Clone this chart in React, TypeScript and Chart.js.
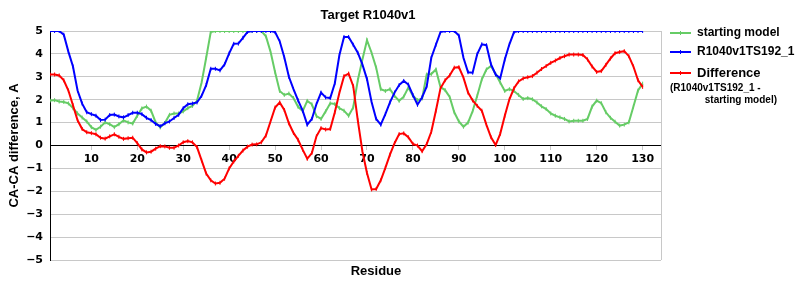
import React, { useEffect, useRef } from 'react';
import { Chart, registerables } from 'chart.js';

Chart.register(...registerables);

const chartTitle = 'Target R1040v1';
const xAxisTitle = 'Residue';
const yAxisTitle = 'CA-CA difference, A';
const seriesNames = ['starting model', 'R1040v1TS192_1', 'Difference'];
const diffNote = ['(R1040v1TS192_1 -', 'starting model)'];

// residue numbers (category positions)
const residues = Array.from({ length: 130 }, (_, i) => i + 1);
const xTickValues = [10, 20, 30, 40, 50, 60, 70, 80, 90, 100, 110, 120, 130];

const startingModel = [
  1.96, 1.98, 1.92, 1.9, 1.84, 1.63, 1.4, 1.22, 1.05, 0.8,
  0.68, 0.82, 1.01, 0.93, 0.8, 0.93, 1.1, 1.01, 0.96, 1.3,
  1.62, 1.7, 1.52, 1.01, 0.79, 0.98, 1.34, 1.4, 1.4, 1.49,
  1.63, 1.73, 1.95, 2.75, 3.83, 4.96, 5, 5, 5, 5,
  5, 5, 5, 5, 5, 5, 5, 4.77, 4.1, 3.2,
  2.38, 2.21, 2.27, 2.07, 1.69, 1.5, 1.95, 1.8, 1.28, 1.16,
  1.49, 1.84, 1.81, 1.63, 1.52, 1.3, 1.66, 2.85, 3.75, 4.6,
  4.05, 3.4, 2.46, 2.38, 2.46, 2.17, 1.95, 2.13, 2.53, 2.17,
  1.98, 2.05, 3.1, 3.12, 3.32, 2.55, 2.42, 2.12, 1.45, 1.05,
  0.82, 1.0, 1.5, 2.17, 2.89, 3.32, 3.47, 3.12, 2.75, 2.38,
  2.46, 2.38, 2.21, 2.03, 2.07, 2.02, 1.88, 1.71, 1.59, 1.4,
  1.3, 1.23, 1.16, 1.05, 1.08, 1.08, 1.08, 1.16, 1.7, 1.96,
  1.85, 1.45, 1.21, 1.04, 0.87, 0.91, 1.01, 1.7, 2.4, 2.7,
];

const modelTS192 = [
  5, 5, 5, 4.84, 4.1, 3.45, 2.4, 1.83, 1.45, 1.37,
  1.3, 1.11, 1.13, 1.33, 1.35, 1.27, 1.23, 1.33, 1.43, 1.43,
  1.37, 1.21, 1.11, 0.94, 0.84, 0.97, 1.05, 1.2, 1.34, 1.63,
  1.8, 1.83, 1.88, 2.17, 2.64, 3.35, 3.35, 3.28, 3.54, 4.02,
  4.44, 4.45, 4.7, 4.96, 5, 5, 5, 5, 5, 4.95,
  4.55, 3.85, 3.0, 2.46, 1.97, 1.52, 0.91, 1.16, 1.81, 2.31,
  2.1, 2.07, 2.72, 3.95, 4.74, 4.74, 4.4, 4.05, 3.54, 2.9,
  1.9, 1.16, 0.91, 1.37, 1.88, 2.31, 2.64, 2.82, 2.66, 2.2,
  1.78, 2.1, 2.58, 3.83, 4.4, 4.95, 5, 5, 5, 4.8,
  3.83, 3.2, 3.18, 3.99, 4.42, 4.38, 3.54, 3.1, 2.94, 3.76,
  4.42, 4.95, 5, 5, 5, 5, 5, 5, 5, 5,
  5, 5, 5, 5, 5, 5, 5, 5, 5, 5,
  5, 5, 5, 5, 5, 5, 5, 5, 5, 5,
];

const difference = [
  3.1, 3.1, 3.06, 2.85, 2.4, 1.76, 1.1, 0.72, 0.58, 0.54,
  0.49, 0.34, 0.3, 0.4, 0.49, 0.38, 0.29, 0.32, 0.34, 0.1,
  -0.17, -0.3, -0.27, -0.14, -0.03, -0.04, -0.1, -0.1, 0.0, 0.14,
  0.19, 0.14, -0.07, -0.65, -1.23, -1.52, -1.66, -1.63, -1.45, -1.0,
  -0.7, -0.45, -0.22, -0.05, 0.04, 0.05, 0.14, 0.43, 1.05, 1.66,
  1.88, 1.55, 0.97, 0.55, 0.25, -0.18, -0.58, -0.33, 0.4, 0.76,
  0.7, 0.72, 1.45, 2.3, 3.03, 3.14, 2.6, 1.1, -0.25, -1.2,
  -1.92, -1.9, -1.52, -0.98, -0.4, 0.1, 0.5, 0.53, 0.36, 0.07,
  0.0, -0.25, 0.06, 0.6, 1.52, 2.5, 2.85, 3.06, 3.4, 3.42,
  2.96, 2.31, 1.97, 1.73, 1.52, 0.9, 0.36, 0.02, 0.51, 1.3,
  2.02, 2.5, 2.8, 2.93, 2.98, 3.03, 3.18, 3.34, 3.47, 3.61,
  3.71, 3.82, 3.9, 3.97, 3.97, 3.97, 3.95, 3.76, 3.45, 3.21,
  3.25, 3.52, 3.8, 4.03, 4.08, 4.12, 3.9, 3.45, 2.85, 2.56,
];

const colors = ['#66cc66', '#0000ff', '#ff0000'];
const GRID = '#c8c8c8';
const ARIAL = '"Liberation Sans", Arial, sans-serif';
const DEJAVU = '"DejaVu Sans", Verdana, sans-serif';

const decorPlugin = {
  id: 'decor',
  afterDraw(chart: any) {
    const { ctx, chartArea } = chart;
    ctx.save();
    // right border of plot
    ctx.strokeStyle = GRID;
    ctx.lineWidth = 1;
    ctx.beginPath();
    ctx.moveTo(Math.round(chartArea.right) + 0.5, chartArea.top);
    ctx.lineTo(Math.round(chartArea.right) + 0.5, chartArea.bottom);
    ctx.stroke();

    ctx.fillStyle = '#000';
    ctx.textBaseline = 'alphabetic';
    ctx.textAlign = 'center';
    ctx.font = `bold 13px ${ARIAL}`;
    ctx.fillText(chartTitle, 368, 19);
    ctx.fillText(xAxisTitle, 376, 275);

    // legend
    const rows = [33, 52, 73];
    rows.forEach((y, i) => {
      ctx.strokeStyle = colors[i];
      ctx.lineWidth = 2;
      ctx.beginPath();
      ctx.moveTo(670, y);
      ctx.lineTo(691, y);
      ctx.stroke();
      ctx.lineWidth = 1;
      ctx.beginPath();
      ctx.moveTo(680.5, y - 2);
      ctx.lineTo(680.5, y + 2);
      ctx.stroke();
      ctx.fillStyle = '#000';
      ctx.textAlign = 'left';
      ctx.textBaseline = 'middle';
      ctx.font = i === 2 ? `bold 13px ${ARIAL}` : `bold 12px ${ARIAL}`;
      ctx.fillText(seriesNames[i], 697, y);
    });
    ctx.font = `bold 10px ${ARIAL}`;
    ctx.textAlign = 'left';
    ctx.fillText(diffNote[0], 670, 88);
    ctx.textAlign = 'right';
    ctx.fillText(diffNote[1], 777, 100);
    ctx.restore();
  },
};

export default function App() {
  const ref = useRef<HTMLCanvasElement | null>(null);

  useEffect(() => {
    if (!ref.current) return;
    const series = [startingModel, modelTS192, difference];
    const chart = new Chart(ref.current, {
      type: 'line',
      data: {
        labels: residues,
        datasets: series.map((d, i) => ({
          label: seriesNames[i],
          data: d,
          borderColor: colors[i],
          backgroundColor: colors[i],
          borderWidth: 2,
          tension: 0,
          pointStyle: 'line',
          pointRotation: 90,
          pointRadius: 2,
          pointBorderWidth: 1,
          pointBorderColor: colors[i],
          order: 2 - i,
        })),
      },
      options: {
        responsive: false,
        animation: false,
        devicePixelRatio: 1,
        layout: { padding: { top: 31, bottom: 40, left: 0, right: 139 } },
        plugins: {
          legend: { display: false },
          title: { display: false },
          tooltip: { enabled: false },
        },
        scales: {
          x: {
            type: 'linear',
            min: 1,
            max: 134,
            position: { y: 0 } as any,
            afterBuildTicks: (scale: any) => {
              scale.ticks = xTickValues.map((v) => ({ value: v }));
            },
            grid: {
              drawOnChartArea: false,
              drawTicks: true,
              tickLength: 4,
              color: GRID,
            },
            border: { display: true, color: '#000', width: 1 },
            ticks: {
              autoSkip: false,
              maxRotation: 0,
              padding: 3,
              color: '#000',
              font: { family: DEJAVU, size: 11, weight: 'bold' },
            },
          },
          y: {
            min: -5,
            max: 5,
            afterFit: (scale: any) => {
              scale.width = 50;
            },
            ticks: {
              stepSize: 1,
              padding: 7,
              color: '#000',
              font: { family: DEJAVU, size: 11, weight: 'bold' },
              callback: (v: any) => (Number(v) < 0 ? '\u2212' + Math.abs(Number(v)) : String(v)),
            },
            grid: {
              drawTicks: false,
              color: (c: any) => (c.tick && c.tick.value === 0 ? '#000' : GRID),
            },
            border: { display: true, color: '#000', width: 1 },
            title: {
              display: true,
              text: yAxisTitle,
              color: '#000',
              font: { family: ARIAL, size: 13, weight: 'bold' },
              padding: { top: 7, bottom: 0 },
            },
          },
        },
      },
      plugins: [decorPlugin],
    } as any);
    return () => chart.destroy();
  }, []);

  return (
    <div style={{ position: 'fixed', left: 0, top: 0, width: 800, height: 300, background: '#fff' }}>
      <canvas ref={ref} width={800} height={300} style={{ display: 'block', width: 800, height: 300 }} />
    </div>
  );
}
